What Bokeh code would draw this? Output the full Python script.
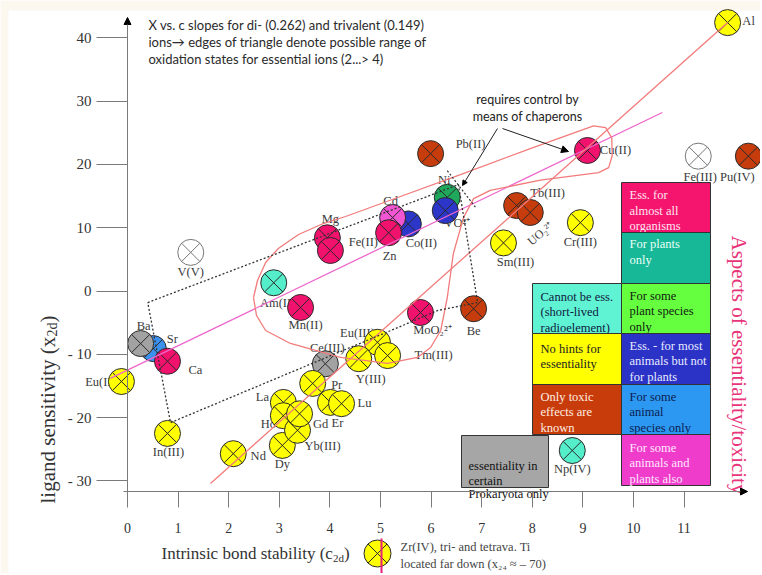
import math
from bokeh.plotting import figure
from bokeh.models import FixedTicker, Arrow, NormalHead
from bokeh.core.properties import value
from bokeh.embed import file_html
from bokeh.resources import INLINE

# ---------------- data ----------------
elements = ["Al", "Pb(II)", "Cu(II)", "Fe(III)", "Pu(IV)", "Tb(III)", "UO2", "Cr(III)", "Sm(III)",
            "Ni", "VO²⁺", "Co(II)", "Cd", "Zn", "Mg", "Fe(II)", "V(V)", "Am(III)", "Mn(II)",
            "MoO₂²⁺", "Be", "Ce(III)", "Eu(III)", "Y(III)", "Tm(III)", "Sr", "Ba", "Ca", "Eu(II)",
            "In(III)", "Nd", "Dy", "La", "Ho", "Yb(III)", "Gd", "Pr", "Er", "Lu", "Np(IV)"]
bond_stability = [11.86, 5.99, 9.09, 11.28, 12.27, 7.69, 7.96, 8.95, 7.43,
                  6.32, 6.28, 5.55, 5.24, 5.16, 3.95, 4.01, 1.25, 2.89, 3.42,
                  5.79, 6.84, 3.91, 4.94, 4.57, 5.14, 0.51, 0.26, 0.79, -0.12,
                  0.79, 2.09, 3.06, 3.08, 3.08, 3.36, 3.40, 3.66, 4.01, 4.23, 8.79]
ligand_sensitivity = [42.4, 21.7, 22.2, 21.3, 21.3, 13.5, 12.4, 10.8, 7.6,
                      14.8, 12.7, 10.6, 11.6, 9.2, 8.4, 6.4, 6.1, 1.3, -2.6,
                      -3.4, -2.8, -11.5, -8.1, -10.7, -10.2, -9.1, -8.3, -11.1, -14.3,
                      -22.5, -25.7, -24.4, -17.6, -19.7, -22.0, -19.4, -14.6, -17.6, -17.8, -25.2]
category = ["none_known", "toxic", "ess_all", "unknown", "toxic", "toxic", "toxic", "none_known", "none_known",
            "ni", "animals", "animals", "some_both", "ess_all", "ess_all", "ess_all", "unknown", "cannot", "ess_all",
            "ess_all", "toxic", "prok", "none_known", "none_known", "none_known", "some_animals", "prok", "ess_all", "none_known",
            "none_known", "none_known", "none_known", "none_known", "none_known", "none_known", "none_known", "none_known",
            "none_known", "none_known", "cannot"]

y_ticks = [-30, -20, -10, 0, 10, 20, 30, 40]
x_ticks = list(range(0, 12))

# straight trend lines and outlines (data units)
pink_line_x = [-0.34, 10.57]
pink_line_y = [-13.8, 28.2]
red_line_x = [1.64, 11.86]
red_line_y = [-30.4, 42.4]
loop_x = [2.49, 2.57, 2.73, 2.98, 3.38, 3.87, 4.31, 5.34, 6.58, 7.96, 9.21, 9.45, 9.57, 9.58, 9.51,
          9.31, 8.16, 7.17, 6.84, 6.64, 6.44, 6.32, 6.19, 5.99, 5.73, 5.14, 4.21, 3.22, 2.73, 2.55, 2.49]
loop_y = [-1.03, 1.66, 4.50, 6.71, 8.93, 10.66, 11.77, 14.77, 18.4, 22.5, 26.1, 25.8, 24.2, 21.4, 19.5,
          18.7, 17.5, 15.9, 14.6, 11.6, 5.92, -1.03, -6.24, -8.93, -10.5, -11.45, -10.5, -8.29, -6.24, -3.87, -1.03]
triangle_x = [0.40, 6.54, 6.92, 6.13, 5.30, 0.85, 0.40]
triangle_y = [-1.82, 16.8, -1.82, -3.08, -5.92, -20.8, -1.82]
apex_tick_x = [6.32, 6.88]
apex_tick_y = [19.0, 13.2]

# ---------------- layout helpers (page pixels -> data) ----------------
W, H = 760, 573
X0, XS, Y0, YS = 127.0, 50.6, 290.5, 6.33
def X(px): return (px - X0) / XS
def Y(py): return (Y0 - py) / YS
def DX(d): return d / XS
def DY(d): return -d / YS

# label offsets (pixels right / down from the point)
label_off = {
    "Al": (21, -2), "Pb(II)": (40, -10), "Cu(II)": (28, 0), "Fe(III)": (2, 21), "Pu(IV)": (-11, 21),
    "Tb(III)": (31, -13), "Cr(III)": (0, 19), "Sm(III)": (12, 19), "Ni": (-3, -17), "VO²⁺": (12, 12),
    "Co(II)": (13, 19), "Cd": (-2, -17), "Zn": (1, 23), "Mg": (3, -19), "Fe(II)": (33, -8),
    "V(V)": (0, 20), "Am(III)": (6, 20), "Mn(II)": (5, 18), "MoO₂²⁺": (12, 17), "Be": (0, 22),
    "Ce(III)": (2, -16), "Eu(III)": (-20, -9), "Y(III)": (12, 20), "Tm(III)": (46, -1),
    "Sr": (19, -10), "Ba": (3, -18), "Ca": (28, 9), "Eu(II)": (-21, 0), "In(III)": (1, 19),
    "Nd": (25, 2), "Dy": (0, 19), "La": (-21, -5), "Ho": (-15, 8), "Yb(III)": (25, 16),
    "Gd": (21, 10), "Pr": (24, 2), "Er": (7, 21), "Lu": (23, -1), "Np(IV)": (0, 18),
}

colors = {
    "ess_all": "#f0126c", "ni": "#1fa75c", "cannot": "#55eecb", "none_known": "#ffff00",
    "animals": "#2c36c8", "some_animals": "#3a92ee", "some_both": "#f055d2", "toxic": "#c63c0c",
    "prok": "#a2a2a2", "unknown": "#ffffff",
}

SERIF = value("Liberation Serif")
SANS = value("Lato")

p = figure(width=W, height=H, output_backend="svg", toolbar_location=None,
           x_range=(X(0), X(W)), y_range=(Y(H), Y(0)), min_border=0,
           background_fill_color="white", border_fill_color="white", outline_line_color=None)
p.grid.visible = False

# cream page strips (top and left)
p.quad(left=[X(0), X(0)], right=[X(W), X(8)], top=[Y(0), Y(0)], bottom=[Y(10), Y(H)],
       fill_color="#fcf7ef", line_color=None)

# axes
p.yaxis.fixed_location = 0
p.yaxis.ticker = FixedTicker(ticks=y_ticks)
p.yaxis.major_label_overrides = {-30: "- 30", -20: "- 20", -10: "- 10"}
p.yaxis.major_tick_out = 31
p.yaxis.major_tick_in = 0
p.yaxis.minor_tick_out = 0
p.yaxis.minor_tick_in = 0
p.yaxis.major_label_standoff = 5
p.yaxis.bounds = (Y(500), Y(20))
p.xaxis.fixed_location = Y(491)
p.xaxis.ticker = FixedTicker(ticks=x_ticks)
p.xaxis.major_tick_out = 16
p.xaxis.major_tick_in = 0
p.xaxis.minor_tick_out = 0
p.xaxis.minor_tick_in = 0
p.xaxis.major_label_standoff = 15
p.xaxis.bounds = (X(123), X(742))
for ax in (p.xaxis, p.yaxis):
    ax.axis_line_color = "#7a7a7a"
    ax.major_tick_line_color = "#7a7a7a"
    ax.major_label_text_font = "Liberation Serif"
    ax.major_label_text_color = "#333333"
p.yaxis.major_label_text_font_size = "15px"
p.xaxis.major_label_text_font_size = "14px"

p.add_layout(Arrow(end=NormalHead(size=7, fill_color="black", line_color="black"),
                   x_start=0, y_start=Y(30), x_end=0, y_end=Y(17), line_color="#7a7a7a"))
p.add_layout(Arrow(end=NormalHead(size=7, fill_color="black", line_color="black"),
                   x_start=X(730), y_start=Y(491), x_end=X(747), y_end=Y(491), line_color="#7a7a7a"))

# legend boxes
cols = [X(532), X(621), X(710)]
rows = [Y(182), Y(232), Y(283), Y(333), Y(384), Y(434), Y(485)]
boxes = [
    (1, 0, "#f5146e", "#ffe6f0", ["Ess. for", "almost all", "organisms"], 12.5),
    (1, 1, "#17b897", "#eafff8", ["For plants", "only"], 11.5),
    (0, 2, "#5ff2d3", "#102040", ["Cannot be ess.", "(short-lived", "radioelement)"], 13),
    (1, 2, "#66ff40", "#102010", ["For some", "plant species", "only"], 12),
    (0, 3, "#ffff00", "#222222", ["No hints for", "essentiality"], 15),
    (1, 3, "#2b32c6", "#e8ecff", ["Ess. - for most", "animals but not", "for plants"], 12),
    (0, 4, "#c83c0c", "#ffeee0", ["Only toxic", "effects are", "known"], 12),
    (1, 4, "#2c98f2", "#0c1c50", ["For some", "animal", "species only"], 12),
    (1, 5, "#ef3ccb", "#ffe8ff", ["For some", "animals and", "plants also"], 13),
]
for c, r, fc, tc, lines, first in boxes:
    p.quad(left=cols[c], right=cols[c + 1], top=rows[r], bottom=rows[r + 1],
           fill_color=fc, line_color="#333333", line_width=1)
    tx = cols[c] + DX(8)
    p.text(x=[tx] * len(lines), y=[rows[r] + DY(first + 15.5 * i) for i in range(len(lines))],
           text=lines, text_font=SERIF, text_font_size="12.5px", text_color=tc,
           text_baseline="middle", text_align="left")
p.quad(left=X(461), right=X(548), top=Y(435), bottom=Y(487), fill_color="#a6a6a6",
       line_color="#333333", line_width=1)
p.text(x=[X(468)] * 3, y=[Y(465), Y(480), Y(493)], text=["essentiality  in", "certain", "Prokaryota only"],
       text_font=SERIF, text_font_size="12.5px", text_color="#111111",
       text_baseline="middle", text_align="left")

# point labels (under the circles)
lx, ly, lt = [], [], []
for n, xv, yv in zip(elements, bond_stability, ligand_sensitivity):
    if n == "UO2":
        continue
    dx, dy = label_off[n]
    lx.append(xv + DX(dx)); ly.append(yv + DY(dy)); lt.append(n)
p.text(x=lx, y=ly, text=lt, text_font=SERIF, text_font_size="12.5px", text_color="#3a3a3a",
       text_align="center", text_baseline="middle")
iu = elements.index("UO2")
p.text(x=[bond_stability[iu] + DX(10)], y=[ligand_sensitivity[iu] + DY(21)], text=["UO₂²⁺"],
       angle=math.radians(40), text_font=SERIF, text_font_size="12px", text_color="#3a3a3a",
       text_align="center", text_baseline="middle")

# circles
fills = [colors[c] for c in category]
outl = ["#777777" if c == "unknown" else "#2a2a2a" for c in category]
p.scatter(bond_stability, ligand_sensitivity, marker="circle_x", size=26,
          fill_color=fills, line_color=outl, line_width=1)

# lines
p.line(pink_line_x, pink_line_y, line_color="#ee66cc", line_width=1.3)
p.line(red_line_x, red_line_y, line_color="#f27b7b", line_width=1.3)
p.line(loop_x, loop_y, line_color="#f27b7b", line_width=1.3)
p.line(triangle_x, triangle_y, line_color="#333333", line_width=1.3, line_dash="2 2")
p.line(apex_tick_x, apex_tick_y, line_color="#333333", line_width=1.2, line_dash="2 2")

# chaperon annotation
p.text(x=[X(527)] * 2, y=[Y(99), Y(116)], text=["requires control by", "means of chaperons"],
       text_font=SANS, text_font_size="12.5px", text_color="#222222",
       text_align="center", text_baseline="middle")
p.add_layout(Arrow(end=NormalHead(size=5, fill_color="black", line_color="black"),
                   x_start=X(497), y_start=Y(128), x_end=X(462), y_end=Y(185), line_color="#222222"))
p.add_layout(Arrow(end=NormalHead(size=7, fill_color="black", line_color="black"),
                   x_start=X(502), y_start=Y(128), x_end=X(568), y_end=Y(151), line_color="#222222"))

# top-left note
p.text(x=[X(148)] * 3, y=[Y(24), Y(41), Y(58)],
       text=["X vs. c slopes for di- (0.262) and trivalent (0.149)",
             "ions→ edges of triangle denote possible range of",
             "oxidation states for essential ions  (2...> 4)"],
       text_font=SANS, text_font_size="13px", text_color="#2a2a2a",
       text_align="left", text_baseline="middle")

# right vertical title
p.text(x=[X(738)], y=[Y(235)], text=["Aspects of essentiality/toxicity"], angle=-math.pi / 2,
       text_font=SERIF, text_font_size="21px", text_color="#e8357a",
       text_align="left", text_baseline="middle")

# axis titles (with subscripts)
p.text(x=[X(47)], y=[Y(503)], text=["ligand sensitivity (x"], angle=math.pi / 2,
       text_font=SERIF, text_font_size="21px", text_color="#333333", text_align="left", text_baseline="middle")
p.text(x=[X(52)], y=[Y(336)], text=["2d"], angle=math.pi / 2,
       text_font=SERIF, text_font_size="14px", text_color="#333333", text_align="left", text_baseline="middle")
p.text(x=[X(47)], y=[Y(322)], text=[")"], angle=math.pi / 2,
       text_font=SERIF, text_font_size="21px", text_color="#333333", text_align="left", text_baseline="middle")
p.text(x=[X(161)], y=[Y(553)], text=["Intrinsic bond stability (c"],
       text_font=SERIF, text_font_size="17px", text_color="#333333", text_align="left", text_baseline="middle")
p.text(x=[X(332.5)], y=[Y(557)], text=["2d"],
       text_font=SERIF, text_font_size="11px", text_color="#333333", text_align="left", text_baseline="middle")
p.text(x=[X(343.5)], y=[Y(553)], text=[")"],
       text_font=SERIF, text_font_size="17px", text_color="#333333", text_align="left", text_baseline="middle")

# Zr note
p.scatter([X(377)], [Y(553)], marker="circle_x", size=27, fill_color="#ffff00", line_color="#2a2a2a")
p.line([X(381), X(381)], [Y(538), Y(580)], line_color="#e8207a", line_width=2)
p.text(x=[X(400)] * 2, y=[Y(546), Y(563)],
       text=["Zr(IV), tri- and tetrava. Ti", "located far down (x₂₄ ≈ – 70)"],
       text_font=SERIF, text_font_size="12.5px", text_color="#444444",
       text_align="left", text_baseline="middle")

open("out.html", "w").write(file_html(p, INLINE))
